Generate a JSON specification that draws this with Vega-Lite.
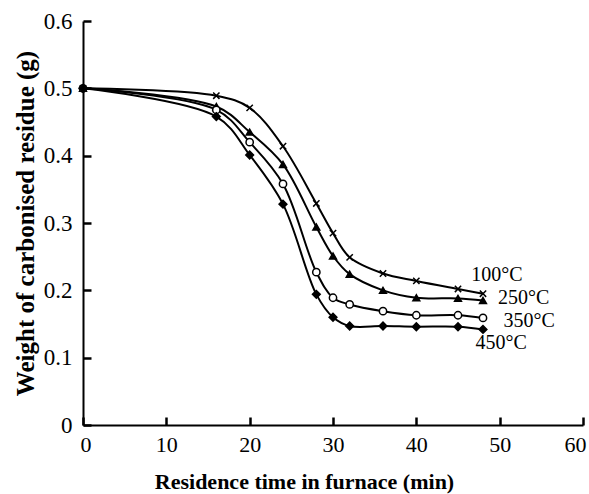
{
  "$schema": "https://vega.github.io/schema/vega-lite/v6.json",
  "autosize": {"type": "none"},
  "padding": {"left": 83, "top": 21, "right": 6, "bottom": 69},
  "width": 500,
  "height": 404,
  "background": "white",
  "config": {
    "view": {"stroke": null},
    "font": "Liberation Serif",
    "axis": {
      "grid": false,
      "domainColor": "black",
      "domainWidth": 2,
      "tickColor": "black",
      "tickWidth": 2.5,
      "tickSize": -8,
      "labelColor": "black",
      "labelFont": "Liberation Serif",
      "labelFontSize": 22,
      "labelOverlap": false,
      "titleFont": "Liberation Serif",
      "titleFontWeight": "bold",
      "titleColor": "black"
    }
  },
  "datasets": {
    "series": [
      {"t": 0, "w": 0.5, "s": "100"}, {"t": 16, "w": 0.489, "s": "100"}, {"t": 20, "w": 0.471, "s": "100"}, {"t": 24, "w": 0.414, "s": "100"}, {"t": 28, "w": 0.329, "s": "100"}, {"t": 30, "w": 0.285, "s": "100"}, {"t": 32, "w": 0.249, "s": "100"}, {"t": 36, "w": 0.225, "s": "100"}, {"t": 40, "w": 0.214, "s": "100"}, {"t": 45, "w": 0.202, "s": "100"}, {"t": 48, "w": 0.195, "s": "100"},
      {"t": 0, "w": 0.5, "s": "250"}, {"t": 16, "w": 0.473, "s": "250"}, {"t": 20, "w": 0.435, "s": "250"}, {"t": 24, "w": 0.387, "s": "250"}, {"t": 28, "w": 0.294, "s": "250"}, {"t": 30, "w": 0.251, "s": "250"}, {"t": 32, "w": 0.224, "s": "250"}, {"t": 36, "w": 0.2, "s": "250"}, {"t": 40, "w": 0.189, "s": "250"}, {"t": 45, "w": 0.188, "s": "250"}, {"t": 48, "w": 0.185, "s": "250"},
      {"t": 0, "w": 0.5, "s": "350"}, {"t": 16, "w": 0.468, "s": "350"}, {"t": 20, "w": 0.42, "s": "350"}, {"t": 24, "w": 0.358, "s": "350"}, {"t": 28, "w": 0.227, "s": "350"}, {"t": 30, "w": 0.189, "s": "350"}, {"t": 32, "w": 0.179, "s": "350"}, {"t": 36, "w": 0.169, "s": "350"}, {"t": 40, "w": 0.163, "s": "350"}, {"t": 45, "w": 0.163, "s": "350"}, {"t": 48, "w": 0.159, "s": "350"},
      {"t": 0, "w": 0.5, "s": "450"}, {"t": 16, "w": 0.458, "s": "450"}, {"t": 20, "w": 0.401, "s": "450"}, {"t": 24, "w": 0.328, "s": "450"}, {"t": 28, "w": 0.194, "s": "450"}, {"t": 30, "w": 0.16, "s": "450"}, {"t": 32, "w": 0.147, "s": "450"}, {"t": 36, "w": 0.147, "s": "450"}, {"t": 40, "w": 0.146, "s": "450"}, {"t": 45, "w": 0.146, "s": "450"}, {"t": 48, "w": 0.142, "s": "450"}
    ],
    "labels": [
      {"label": "100°C", "t": 46.6, "w": 0.223},
      {"label": "250°C", "t": 49.8, "w": 0.188},
      {"label": "350°C", "t": 50.45, "w": 0.155},
      {"label": "450°C", "t": 47.1, "w": 0.122}
    ]
  },
  "layer": [
    {
      "data": {"name": "series"},
      "mark": {"type": "line", "interpolate": "catmull-rom", "color": "black", "strokeWidth": 2},
      "encoding": {
        "x": {"field": "t", "type": "quantitative", "scale": {"domain": [0, 60]}, "axis": {"values": [0, 10, 20, 30, 40, 50, 60], "title": "Residence time in furnace (min)", "titleFontSize": 22, "labelPadding": 17, "titlePadding": 16, "titleX": 221, "labelFlush": true, "labelFlushOffset": 3, "format": "d"}},
        "y": {"field": "w", "type": "quantitative", "scale": {"domain": [0, 0.6]}, "axis": {"values": [0, 0.1, 0.2, 0.3, 0.4, 0.5, 0.6], "title": "Weight of carbonised residue (g)", "titleFontSize": 25, "labelFontSize": 23, "labelFlush": false, "labelPadding": 19, "titlePadding": 5, "format": "~g"}},
        "detail": {"field": "s"}
      }
    },
    {
      "data": {"name": "series"},
      "mark": {"type": "point", "filled": false, "stroke": "black", "strokeWidth": 1.5, "opacity": 1},
      "encoding": {
        "x": {"field": "t", "type": "quantitative"},
        "y": {"field": "w", "type": "quantitative"},
        "shape": {"field": "s", "type": "nominal", "legend": null, "scale": {"domain": ["100", "250", "350", "450"], "range": ["M-1,-1L1,1M1,-1L-1,1", "triangle-up", "circle", "diamond"]}},
        "fill": {"field": "s", "type": "nominal", "legend": null, "scale": {"domain": ["100", "250", "350", "450"], "range": ["transparent", "black", "white", "black"]}},
        "size": {"field": "s", "type": "nominal", "legend": null, "scale": {"domain": ["100", "250", "350", "450"], "range": [40, 60, 50, 45]}}
      }
    },
    {
      "data": {"name": "labels"},
      "mark": {"type": "text", "align": "left", "baseline": "middle", "fontSize": 20, "font": "Liberation Serif", "color": "black"},
      "encoding": {
        "x": {"field": "t", "type": "quantitative"},
        "y": {"field": "w", "type": "quantitative"},
        "text": {"field": "label"}
      }
    }
  ]
}
